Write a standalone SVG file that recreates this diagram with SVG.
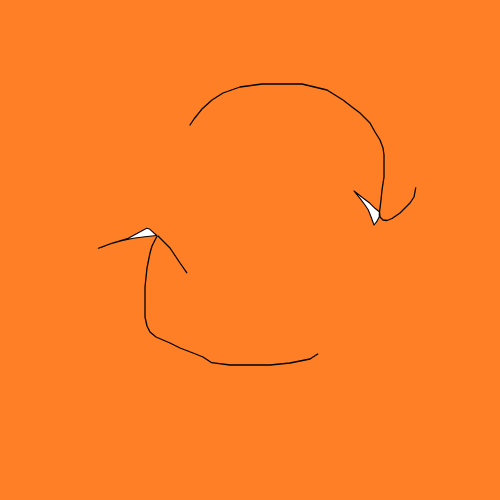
<svg xmlns="http://www.w3.org/2000/svg" width="500" height="500" viewBox="0 0 500 500">
<style>
.ln{fill:none;stroke:#000;stroke-width:1.3;stroke-linejoin:round;stroke-linecap:round}
.hd{fill:#fff;stroke:#000;stroke-width:1.1;stroke-linejoin:round}
</style>
<rect width="500" height="500" fill="#FF7F27"/>
<g id="connectors">
<g id="arrow-top">
<path class="ln" d="M190,125 L194,119 L201.7,109.3 L212,100 L223,93 L240,87 L262,84 L302,84 L327,90 L343,100 L352,107 L360,113 L370,123 L375,132 L380,140 L383,148 L384,155 L384,177 L382,190 L381,200 L379.5,212 L380,217 L383,220 L387,220.5 L392,218.5 L400,213 L410,203 L414,197 L415.7,188"/>
<path class="hd" d="M354,191 L363.3,198.3 L370,203.3 L375,208.3 L379.3,211.7 L379.3,216.7 L376.7,221.7 L374,225 L371,216.7 L368.3,210 L365,205 L360,198.3 Z"/>
</g>
<g id="arrow-bottom">
<path class="ln" d="M186.7,272.7 L180,263 L174,254 L170,248 L158,236 M156.7,236.7 L152,246 L150,253 L147,268 L145,287 L145,317 L147,326 L150,332 L156,337 L170,343 L180,348 L193,353 L203,357 L211.7,362.7 L230,365 L270,365 L290,363 L300,361 L310,359 L317.7,354"/>
<path class="hd" d="M98.3,248.3 L111.7,243.3 L128.3,238.3 L138.3,232.7 L146.7,228.3 L150,229.3 L156.7,235.5 L145,236.7 L133.3,238.3 L121.7,240.7 L110,244 L101.7,247.3 Z"/>
</g>
</g>
</svg>
